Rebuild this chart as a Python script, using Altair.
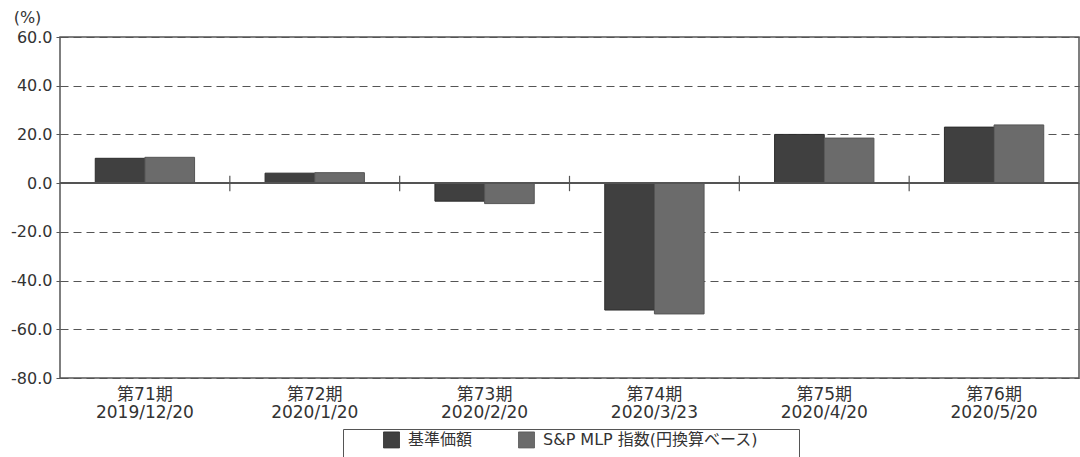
import altair as alt
import pandas as pd

# Period labels (two lines each) and the two return series, in %
periods = ["第71期", "第72期", "第73期", "第74期", "第75期", "第76期"]
dates = ["2019/12/20", "2020/1/20", "2020/2/20", "2020/3/23", "2020/4/20", "2020/5/20"]
series_names = ["基準価額", "S&P MLP 指数(円換算ベース)"]
nav_change = [10.2, 4.1, -7.4, -52.1, 20.0, 23.0]
index_change = [10.6, 4.3, -8.4, -53.7, 18.5, 23.9]
y_ticks = [-80, -60, -40, -20, 0, 20, 40, 60]

fill_colors = ["#404040", "#6b6b6b"]
edge_colors = ["#2c2c2c", "#555555"]
FONT = "DejaVu Sans, Noto Sans CJK JP, sans-serif"
TEXT = "#333333"
LINE = "#555555"

period_keys = [f"{p}|{d}" for p, d in zip(periods, dates)]
rows = []
for key, a, b in zip(period_keys, nav_change, index_change):
    rows.append({"period": key, "series": series_names[0], "value": a})
    rows.append({"period": key, "series": series_names[1], "value": b})
df = pd.DataFrame(rows)

x_scale = alt.Scale(domain=period_keys, paddingInner=0, paddingOuter=0)
y_scale = alt.Scale(domain=[-80, 60], nice=False, zero=False)

x_axis = alt.Axis(
    title=None,
    labelExpr="split(datum.label, '|')",
    labelAngle=0,
    ticks=False,
    domain=False,
    labelFont=FONT,
    labelFontSize=17,
    labelFontWeight=400,
    labelColor=TEXT,
    labelPadding=8,
    labelLineHeight=18,
)

bars = alt.Chart(df).mark_bar(strokeWidth=1).encode(
    x=alt.X("period:N", scale=x_scale, sort=period_keys, axis=x_axis),
    xOffset=alt.XOffset(
        "series:N",
        sort=series_names,
        scale=alt.Scale(domain=series_names, paddingInner=0, paddingOuter=0.71),
    ),
    y=alt.Y(
        "value:Q",
        scale=y_scale,
        axis=alt.Axis(
            values=y_ticks,
            labelExpr="replace(format(datum.value, '.1f'), '\u2212', '-')",
            title="(%)",
            titleAngle=0,
            titleAlign="center",
            titleBaseline="middle",
            titleX=-33,
            titleY=-20,
            titleFont=FONT,
            titleFontSize=16,
            titleFontWeight=400,
            titleColor=TEXT,
            labelFont=FONT,
            labelFontSize=16,
            labelFontWeight=400,
            labelColor=TEXT,
            labelPadding=4,
            tickSize=4,
            tickColor=LINE,
            domain=False,
            grid=True,
            gridColor=LINE,
            gridDash=[8, 5],
            gridWidth=1,
        ),
    ),
    color=alt.Color(
        "series:N",
        sort=series_names,
        scale=alt.Scale(domain=series_names, range=fill_colors),
        legend=alt.Legend(
            # blank title on the right gives the box its right-hand margin
            title="\u2800",
            titleOrient="right",
            titleAnchor="start",
            titleFont="DejaVu Sans",
            titleFontSize=25,
            titlePadding=19,
            orient="none",
            direction="horizontal",
            legendX=283,
            legendY=392,
            symbolType="square",
            symbolSize=256,
            symbolStrokeColor="#333333",
            symbolStrokeWidth=0.8,
            symbolOffset=38,
            labelOffset=8,
            labelLimit=400,
            labelFont=FONT,
            labelFontSize=16,
            labelFontWeight=400,
            labelColor=TEXT,
            columnPadding=7,
            padding=2,
            strokeColor=LINE,
            fillColor="white",
        ),
    ),
    stroke=alt.Stroke(
        "series:N",
        sort=series_names,
        scale=alt.Scale(domain=series_names, range=edge_colors),
        legend=None,
    ),
)

# Zero line across the plot
zero_line = alt.Chart(df).mark_rule(color=LINE, strokeWidth=1.3).encode(
    y=alt.datum(0, scale=y_scale)
)

# Short separators between periods, standing on the zero line
sep_df = pd.DataFrame({"period": period_keys[1:]})
separators = alt.Chart(sep_df).mark_rule(color=LINE, strokeWidth=1.2).encode(
    x=alt.X("period:N", scale=x_scale, sort=period_keys, bandPosition=0, axis=x_axis),
    y=alt.datum(3.0),
    y2=alt.datum(-3.3),
)

chart = (
    alt.layer(bars, zero_line, separators)
    .properties(
        width=1019,
        height=341,
        autosize=alt.AutoSizeParams(type="none"),
        padding={"left": 60, "top": 37, "right": 1, "bottom": 79},
        background="white",
    )
    .configure_view(stroke=LINE, strokeWidth=1.5)
)

chart.save("out.html", embed_options={"renderer": "svg", "actions": False})
